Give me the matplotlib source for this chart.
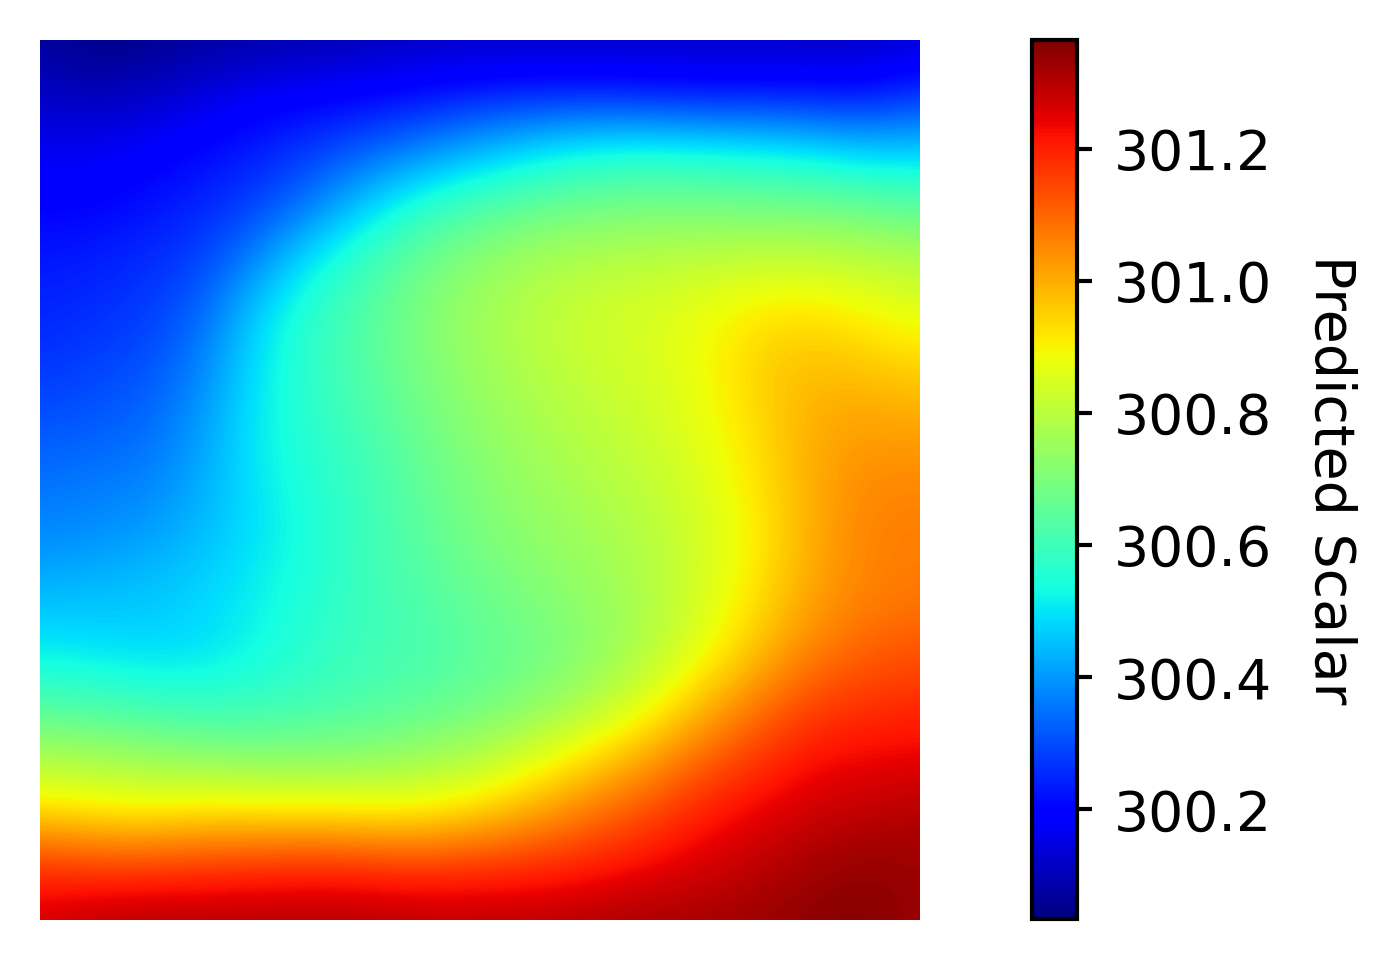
import matplotlib
matplotlib.use("Agg")
import matplotlib.pyplot as plt
import numpy as np

# values, 17 x 17 samples, offset from 300
scalar_rows = [
    [.07, .04, .05, .07, .08, .09, .10, .11, .11, .11, .11, .11, .11, .11, .11, .11, .13],
    [.12, .10, .12, .15, .18, .19, .20, .22, .24, .25, .25, .24, .23, .23, .23, .22, .27],
    [.17, .17, .19, .21, .24, .28, .33, .38, .44, .49, .53, .54, .53, .52, .50, .47, .47],
    [.20, .20, .22, .25, .29, .37, .48, .57, .62, .66, .68, .69, .69, .68, .68, .66, .64],
    [.23, .24, .26, .29, .39, .52, .60, .68, .73, .77, .79, .80, .81, .82, .82, .81, .79],
    [.25, .26, .28, .34, .49, .58, .64, .71, .76, .80, .83, .85, .88, .92, .93, .90, .87],
    [.27, .29, .31, .38, .51, .58, .64, .70, .75, .79, .82, .84, .88, .95, .98, .97, .95],
    [.31, .32, .34, .41, .52, .57, .62, .68, .73, .77, .80, .83, .87, .93, 1.0, 1.02, 1.01],
    [.35, .36, .37, .43, .51, .56, .60, .66, .71, .75, .78, .81, .85, .92, 1.0, 1.05, 1.05],
    [.38, .39, .41, .45, .50, .55, .60, .65, .70, .73, .76, .79, .84, .90, 1.0, 1.06, 1.07],
    [.44, .45, .46, .48, .52, .56, .60, .63, .67, .71, .74, .78, .84, .92, 1.01, 1.06, 1.07],
    [.50, .49, .48, .49, .53, .57, .60, .62, .65, .68, .72, .78, .86, .96, 1.05, 1.10, 1.12],
    [.61, .60, .58, .57, .58, .60, .62, .64, .67, .71, .77, .85, .96, 1.06, 1.14, 1.17, 1.18],
    [.77, .76, .74, .72, .71, .71, .72, .75, .78, .85, .92, 1.00, 1.09, 1.16, 1.22, 1.23, 1.24],
    [.93, .91, .90, .92, .91, .91, .90, .90, .94, 1.00, 1.07, 1.13, 1.20, 1.24, 1.27, 1.29, 1.30],
    [1.17, 1.15, 1.15, 1.16, 1.17, 1.18, 1.17, 1.16, 1.17, 1.18, 1.20, 1.23, 1.26, 1.29, 1.32, 1.34, 1.33],
    [1.27, 1.30, 1.31, 1.31, 1.31, 1.31, 1.31, 1.30, 1.30, 1.30, 1.31, 1.32, 1.32, 1.33, 1.35, 1.36, 1.33],
]
scalar_min = 300.034
scalar_max = 301.365
cbar_ticks = [300.2, 300.4, 300.6, 300.8, 301.0, 301.2]
cbar_label = "Predicted Scalar"

W, H = 1397, 960
grid = 300 + np.array(scalar_rows)

fig = plt.figure(figsize=(W / 300, H / 300), dpi=300)
ax = fig.add_axes([40 / W, 1 - 920 / H, 880 / W, 880 / H])
im = ax.imshow(grid, cmap="jet", vmin=scalar_min, vmax=scalar_max,
               interpolation="bicubic", aspect="auto",
               extent=(-0.5, 16.5, 16.5, -0.5))
ax.set_xlim(0, 16)
ax.set_ylim(16, 0)
ax.axis("off")

cax = fig.add_axes([1032 / W, 1 - 919 / H, 44.5 / W, 879 / H])
cbar = fig.colorbar(im, cax=cax)
cbar.set_ticks(cbar_ticks)
cbar.ax.tick_params(labelsize=13.3, width=1, length=3.5, pad=5.5)
cbar.outline.set_linewidth(1)
cbar.set_label(cbar_label, rotation=270, fontsize=13.3, labelpad=20.5)

fig.savefig("out.png", dpi=300)
